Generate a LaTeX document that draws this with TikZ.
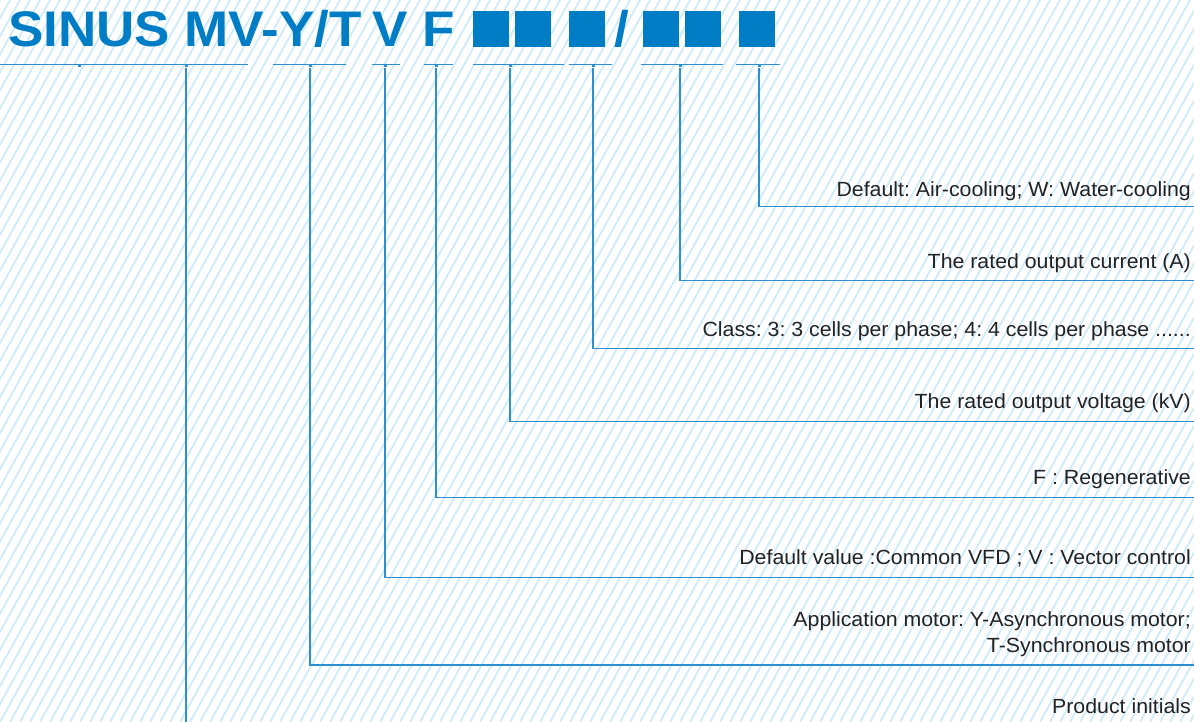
\documentclass[tikz,border=0pt]{standalone}
\usepackage{fontspec}
\setmainfont{Liberation Sans}
\newfontfamily\titlefont[FakeStretch=1.06]{Liberation Sans}
\newfontfamily\labelfont[FakeStretch=1.04]{Liberation Sans}
\usepackage{xcolor}
\usetikzlibrary{positioning,calc}
\definecolor{sinusblue}{HTML}{007DC5}
\definecolor{leadblue}{HTML}{2C8FD0}
\definecolor{hatchblue}{HTML}{CFEAF9}
\definecolor{txtgray}{HTML}{222222}
\tikzset{
  hatch/.style={draw=hatchblue, line width=1.8pt},
  title/.style={anchor=base west, inner sep=0pt, text=sinusblue, font=\titlefont\fontsize{50}{50}\selectfont\bfseries},
  slot/.style={fill=sinusblue, minimum width=36pt, minimum height=36pt, inner sep=0pt, anchor=north west},
  uline/.style={draw=leadblue, line width=1.4pt},
  lead/.style={draw=leadblue, line width=1.4pt},
  dot/.style={fill=leadblue, minimum size=3pt, inner sep=0pt},
  meaning/.style={anchor=base east, inner sep=0pt, text=txtgray, align=right, font=\labelfont\fontsize{20.5}{26}\selectfont\frenchspacing},
}

\begin{document}
\begin{tikzpicture}[x=1pt,y=-1pt]
  \useasboundingbox (0,0) rectangle (1194,722);
  \begin{scope}
    \clip (0,0) rectangle (1194,722);
    \foreach \x in {-400,-390,...,1200} {\draw[hatch] (\x,722) -- ++(400,-722);}
  \end{scope}

  % model code
  \node[title] (sinus) at (8,47) {SINUS MV-Y/T};
  \node[title] (vctl) at (372,47) {V};
  \node[title] (regen) at (422,47) {F};
  \node[slot] (s1) at (473,11) {};
  \node[slot] (s2) at (515,11) {};
  \node[slot] (s3) at (569,11) {};
  \node[title] (slash) at (614,47) {/};
  \node[slot] (s4) at (643,11) {};
  \node[slot] (s5) at (685,11) {};
  \node[slot] (s6) at (739,11) {};

  % underlines
  \foreach \a/\b in {0/248,273/346,372/400,424/453,473/564,569/612,641/723,736/780}
    {\draw[uline] (\a,64.5) -- (\b,64.5);}

  % junctions
  \foreach \n/\x in {j0/79,j1/186,j2/310,j3/385,j4/436,j5/510,j6/593,j7/680,j8/759}
    {\node[dot] (\n) at (\x,66) {};}

  % meanings
  \node[meaning] (cool) at (1191,197) {Default: Air-cooling; W: Water-cooling};
  \node[meaning] (curr) at (1191,269) {The rated output current (A)};
  \node[meaning] (cls)  at (1191,336) {Class: 3: 3 cells per phase; 4: 4 cells per phase ......};
  \node[meaning] (volt) at (1191,408) {The rated output voltage (kV)};
  \node[meaning] (regn) at (1191,484) {F : Regenerative};
  \node[meaning] (ctrl) at (1191,564) {Default value :Common VFD ; V : Vector control};
  \node[meaning] (motor) at (1191,652) {Application motor: Y-Asynchronous motor;\\T-Synchronous motor};
  \node[meaning] (init) at (1191,713) {Product initials};

  \coordinate (e8) at (1194,206.5);
  \coordinate (e7) at (1194,280.5);
  \coordinate (e6) at (1194,348.5);
  \coordinate (e5) at (1194,421.5);
  \coordinate (e4) at (1194,497.5);
  \coordinate (e3) at (1194,577.5);
  \coordinate (e2) at (1194,665);
  \coordinate (e1) at (186,722);

  \draw[lead] (j8) |- (e8);
  \draw[lead] (j7) |- (e7);
  \draw[lead] (j6) |- (e6);
  \draw[lead] (j5) |- (e5);
  \draw[lead] (j4) |- (e4);
  \draw[lead] (j3) |- (e3);
  \draw[lead] (j2) |- (e2);
  \draw[lead] (j1) -- (e1);
\end{tikzpicture}
\end{document}
